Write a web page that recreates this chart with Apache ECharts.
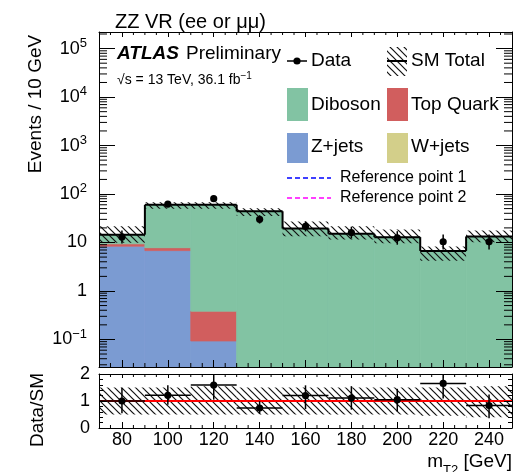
<!DOCTYPE html>
<html><head><meta charset="utf-8">
<script src="https://cdn.jsdelivr.net/npm/echarts@6/dist/echarts.min.js"></script>
<style>html,body{margin:0;padding:0;background:#fff}#c{width:518px;height:472px}</style>
</head><body><div id="c"></div>
<script>
// ---------------- data ----------------
const binEdges   = [70, 90, 110, 130, 150, 170, 190, 210, 230, 250];
const binCenters = [80, 100, 120, 140, 160, 180, 200, 220, 240];
const xTickValues = [80, 100, 120, 140, 160, 180, 200, 220, 240];
const zJets    = [8.4, 6.8, 0.093, 0, 0, 0, 0, 0, 0];
const topQuark = [1.0, 1.0, 0.29, 0, 0, 0, 0, 0, 0];
const wJets    = [0, 0, 0, 0, 0, 0, 0, 0, 0];
const diboson  = [5.1, 52, 59.6, 44, 19.4, 15.1, 12.9, 6.7, 13.3];
const smUpFactor   = [1.5, 1.13, 1.13, 1.15, 1.4, 1.43, 1.44, 1.24, 1.33];
const smDownFactor = [0.68, 0.83, 0.83, 0.8, 0.69, 0.76, 0.75, 0.63, 0.76];
const dataVals    = [13, 62, 80, 30, 21.5, 16, 12.5, 10.3, 10.3];
const dataErrUp   = [4.7, 8.9, 10, 6.5, 5.7, 5.1, 4.6, 4.3, 4.3];
const dataErrDown = [3.5, 7.8, 8.9, 5.4, 4.6, 3.9, 3.5, 3.1, 3.1];
const ratioVals = [1.0, 1.21, 1.59, 0.74, 1.2, 1.11, 1.05, 1.65, 0.83];
const ratioHigh = [1.49, 1.58, 2.1, 0.99, 1.58, 1.55, 1.45, 2.1, 1.24];
const ratioLow  = [0.55, 0.86, 1.05, 0.53, 0.7, 0.68, 0.61, 1.09, 0.36];
const ratioBandHigh = [1.5, 1.5, 1.55, 1.5, 1.5, 1.5, 1.5, 1.5, 1.55];
const ratioBandLow  = [0.5, 0.5, 0.5, 0.5, 0.5, 0.5, 0.5, 0.45, 0.4];
const ratioTickValues = [0, 1, 2];

// ---------------- styling ----------------
const X_MIN = 70, X_MAX = 250, Y_MIN = 0.027, Y_MAX = 2.2e5, R_MIN = 0, R_MAX = 2;
const FONT = '"Liberation Sans", Arial, Helvetica, sans-serif';
const C_DIB = '#82c3a3', C_TOP = '#d15e5e', C_Z = '#7b9bd2', C_W = '#d3cf8a';

function makeHatch(size, lw, color) {
  const c = document.createElement('canvas'); c.width = size; c.height = size;
  const g = c.getContext('2d'); g.strokeStyle = color; g.lineWidth = lw;
  g.beginPath();
  g.moveTo(-1, -1); g.lineTo(size + 1, size + 1);
  g.moveTo(-1, size - 1); g.lineTo(1, size + 1);
  g.moveTo(size - 1, -1); g.lineTo(size + 1, 1);
  g.stroke();
  return c;
}
const hatch = { image: makeHatch(7, 1.2, '#111'), repeat: 'repeat' };

const smTotal = binCenters.map((_, i) => zJets[i] + topQuark[i] + wJets[i] + diboson[i]);

function stackSeries(name, comps, idx, color) {
  const rows = [];
  binCenters.forEach((_, i) => {
    let base = 0;
    for (let k = 0; k < idx; k++) base += comps[k][i];
    const v = comps[idx][i];
    if (v > 0) rows.push([binEdges[i], binEdges[i + 1], Math.max(base, Y_MIN), base + v]);
  });
  return {
    type: 'custom', name, xAxisIndex: 0, yAxisIndex: 0, z: 2, silent: true, clip: true,
    encode: { x: 0, y: 3 }, data: rows,
    renderItem(params, api) {
      const a = api.coord([api.value(0), api.value(3)]);
      const b = api.coord([api.value(1), api.value(2)]);
      return { type: 'rect', shape: { x: a[0], y: a[1], width: b[0] - a[0], height: b[1] - a[1] },
        style: { fill: color, stroke: color, lineWidth: 0.8 } };
    }
  };
}
const comps = [zJets, topQuark, wJets, diboson];

// minor tick values
const minorY = [];
for (let d = -2; d <= 5; d++) for (let m = 2; m <= 9; m++) { const v = m * Math.pow(10, d); if (v > Y_MIN && v < Y_MAX) minorY.push(v); }
const minorX = [];
for (let x = X_MIN + 5; x < X_MAX; x += 5) if ((x - 80) % 20 !== 0) minorX.push(x);

function tickSeries(xi, yi, list, horizontal, lenA, lenB, yLo, yHi) {
  return {
    type: 'custom', xAxisIndex: xi, yAxisIndex: yi, z: 11, silent: true,
    encode: { x: 0, y: 1 },
    data: list.map(v => horizontal ? [X_MIN, v] : [v, yLo]),
    renderItem(params, api) {
      let p, q;
      if (horizontal) {
        p = api.coord([X_MIN, api.value(1)]); q = api.coord([X_MAX, api.value(1)]);
        return { type: 'group', children: [
          { type: 'line', shape: { x1: p[0], y1: p[1], x2: p[0] + lenA, y2: p[1] }, style: { stroke: '#000', lineWidth: 1 } },
          { type: 'line', shape: { x1: q[0], y1: q[1], x2: q[0] - lenB, y2: q[1] }, style: { stroke: '#000', lineWidth: 1 } }
        ] };
      }
      p = api.coord([api.value(0), yLo]); q = api.coord([api.value(0), yHi]);
      return { type: 'group', children: [
        { type: 'line', shape: { x1: p[0], y1: p[1], x2: p[0], y2: p[1] - lenA }, style: { stroke: '#000', lineWidth: 1 } },
        { type: 'line', shape: { x1: q[0], y1: q[1], x2: q[0], y2: q[1] + lenB }, style: { stroke: '#000', lineWidth: 1 } }
      ] };
    }
  };
}

const axLine = { show: true, onZero: false, lineStyle: { color: '#000', width: 1 } };
function xAx(grid, pos, len, labels) {
  return {
    type: 'value', gridIndex: grid, position: pos, min: X_MIN, max: X_MAX, splitNumber: 9, z: 10,
    axisLine: axLine, splitLine: { show: false },
    axisTick: { show: true, inside: true, length: len, customValues: xTickValues, lineStyle: { color: '#000' } },
    axisLabel: labels ? { show: true, customValues: xTickValues, color: '#000', fontSize: 18, fontFamily: FONT, margin: 3 } : { show: false }
  };
}
function logLabel(v) {
  const e = Math.log10(v), r = Math.round(e);
  if (Math.abs(e - r) > 1e-6) return '';
  if (r === 0) return '1';
  if (r === 1) return '10';
  return '10{sup|' + (r < 0 ? '\u2212' + (-r) : r) + '}';
}
function yLog(pos, labels) {
  return {
    type: 'log', logBase: 10, gridIndex: 0, position: pos, min: Y_MIN, max: Y_MAX, z: 10,
    axisLine: axLine, splitLine: { show: false },
    axisTick: { show: true, inside: true, length: 16, lineStyle: { color: '#000' } },
    axisLabel: labels ? {
      show: true, formatter: logLabel, color: '#000', fontSize: 18, fontFamily: FONT, margin: 12, lineHeight: 24,
      showMinLabel: false, showMaxLabel: false,
      rich: { sup: { fontSize: 13, fontFamily: FONT, color: '#000', verticalAlign: 'top', lineHeight: 13 } }
    } : { show: false }
  };
}
function yRatio(pos, labels) {
  return {
    type: 'value', gridIndex: 1, position: pos, min: R_MIN, max: R_MAX, interval: 1, z: 10,
    axisLine: axLine, splitLine: { show: false },
    axisTick: { show: true, inside: true, length: 8, lineStyle: { color: '#000' } },
    minorTick: { show: true, splitNumber: 5, length: 4, lineStyle: { color: '#000' } },
    minorSplitLine: { show: false },
    axisLabel: labels ? { show: true, color: '#000', fontSize: 18, fontFamily: FONT, margin: 9, customValues: ratioTickValues } : { show: false }
  };
}

const series = [];
comps.forEach((c, i) => series.push(stackSeries(['Z+jets', 'Top Quark', 'W+jets', 'Diboson'][i], comps, i, [C_Z, C_TOP, C_W, C_DIB][i])));

// SM total uncertainty band
series.push({
  type: 'custom', name: 'SM band', xAxisIndex: 0, yAxisIndex: 0, z: 3, silent: true, clip: true,
  encode: { x: 0, y: 2 },
  data: binCenters.map((_, i) => [binEdges[i], binEdges[i + 1], smTotal[i] * smUpFactor[i], smTotal[i] * smDownFactor[i]]),
  renderItem(params, api) {
    const a = api.coord([api.value(0), api.value(2)]);
    const b = api.coord([api.value(1), api.value(3)]);
    return { type: 'rect', shape: { x: a[0], y: a[1], width: b[0] - a[0], height: b[1] - a[1] }, style: { fill: hatch } };
  }
});
// SM total step line
series.push({
  type: 'custom', name: 'SM Total', xAxisIndex: 0, yAxisIndex: 0, z: 4, silent: true, clip: true,
  encode: { x: 0, y: 2 },
  data: binCenters.map((_, i) => [binEdges[i], binEdges[i + 1], smTotal[i], i > 0 ? smTotal[i - 1] : smTotal[i]]),
  renderItem(params, api) {
    const a = api.coord([api.value(0), api.value(2)]);
    const b = api.coord([api.value(1), api.value(2)]);
    const c = api.coord([api.value(0), api.value(3)]);
    return { type: 'group', children: [
      { type: 'line', shape: { x1: a[0], y1: a[1], x2: b[0], y2: b[1] }, style: { stroke: '#000', lineWidth: 2 } },
      { type: 'line', shape: { x1: c[0], y1: c[1], x2: a[0], y2: a[1] }, style: { stroke: '#000', lineWidth: 2 } }
    ] };
  }
});
// data points
series.push({
  type: 'custom', name: 'Data', xAxisIndex: 0, yAxisIndex: 0, z: 5, silent: true,
  encode: { x: 0, y: 1 },
  data: binCenters.map((x, i) => [x, dataVals[i], dataVals[i] + dataErrUp[i], dataVals[i] - dataErrDown[i]]),
  renderItem(params, api) {
    const p = api.coord([api.value(0), api.value(1)]);
    const u = api.coord([api.value(0), api.value(2)]);
    const d = api.coord([api.value(0), api.value(3)]);
    return { type: 'group', children: [
      { type: 'line', shape: { x1: u[0], y1: u[1], x2: d[0], y2: d[1] }, style: { stroke: '#000', lineWidth: 1.5 } },
      { type: 'circle', shape: { cx: p[0], cy: p[1], r: 3.6 }, style: { fill: '#000' } }
    ] };
  }
});
// ratio band + line at 1
series.push({
  type: 'custom', name: 'ratio band', xAxisIndex: 2, yAxisIndex: 2, z: 3, silent: true, clip: true,
  encode: { x: 0, y: 2 },
  data: binCenters.map((_, i) => [binEdges[i], binEdges[i + 1], ratioBandHigh[i], ratioBandLow[i]]),
  renderItem(params, api) {
    const a = api.coord([api.value(0), api.value(2)]);
    const b = api.coord([api.value(1), api.value(3)]);
    return { type: 'rect', shape: { x: a[0], y: a[1], width: b[0] - a[0], height: b[1] - a[1] }, style: { fill: hatch } };
  },
  markLine: { silent: true, symbol: 'none', label: { show: false }, lineStyle: { color: '#ff0000', width: 2, type: 'solid' }, data: [{ yAxis: 1 }] }
});
// ratio points
series.push({
  type: 'custom', name: 'ratio', xAxisIndex: 2, yAxisIndex: 2, z: 5, silent: true, clip: true,
  encode: { x: 0, y: 1 },
  data: binCenters.map((x, i) => [x, ratioVals[i], Math.min(ratioHigh[i], R_MAX), ratioLow[i], binEdges[i], binEdges[i + 1]]),
  renderItem(params, api) {
    const p = api.coord([api.value(0), api.value(1)]);
    const u = api.coord([api.value(0), api.value(2)]);
    const d = api.coord([api.value(0), api.value(3)]);
    const l = api.coord([api.value(4), api.value(1)]);
    const r = api.coord([api.value(5), api.value(1)]);
    return { type: 'group', children: [
      { type: 'line', shape: { x1: u[0], y1: u[1], x2: d[0], y2: d[1] }, style: { stroke: '#000', lineWidth: 1.5 } },
      { type: 'line', shape: { x1: l[0], y1: l[1], x2: r[0], y2: r[1] }, style: { stroke: '#000', lineWidth: 1.5 } },
      { type: 'circle', shape: { cx: p[0], cy: p[1], r: 3.6 }, style: { fill: '#000' } }
    ] };
  }
});
// minor ticks
series.push(tickSeries(0, 0, minorY, true, 8, 8));
series.push(tickSeries(0, 0, minorX, false, 4, 3, Y_MIN, Y_MAX));
series.push(tickSeries(2, 2, minorX, false, 3, 3, R_MIN, R_MAX));

// ---------------- texts & legend ----------------
function txt(text, x, y, size, opts) {
  return Object.assign({ type: 'text', x: x, y: y, z: 20, silent: true,
    style: Object.assign({ text: text, fill: '#000', font: size + 'px ' + FONT, align: 'left', verticalAlign: 'middle' }, (opts && opts.style) || {}) },
    (opts && opts.el) || {});
}
const graphics = [
  txt('ZZ VR (ee or \u03bc\u03bc)', 115, 22, 20),
  txt('ATLAS', 117, 54, 19, { style: { font: 'italic bold 19px ' + FONT } }),
  txt('Preliminary', 186, 54, 19),
  txt('\u221as = 13 TeV, 36.1 fb{sup|\u22121}', 117, 80, 14, { style: { rich: { sup: { fontSize: 10, fontFamily: FONT, fill: '#000', verticalAlign: 'top', lineHeight: 10 } }, lineHeight: 18 } }),
  txt('Events / 10 GeV', 36, 104, 19, { style: { align: 'center' }, el: { rotation: Math.PI / 2 } }),
  txt('Data/SM', 38, 410, 19, { style: { align: 'center' }, el: { rotation: Math.PI / 2 } }),
  txt('m{sub|T2} [GeV]', 512, 462, 19, { style: { align: 'right', lineHeight: 22, rich: { sub: { fontSize: 13, fontFamily: FONT, fill: '#000', verticalAlign: 'bottom', lineHeight: 13, padding: [0, 0, -4, 0] } } } }),
  // legend
  { type: 'line', z: 20, shape: { x1: 287, y1: 61, x2: 307, y2: 61 }, style: { stroke: '#000', lineWidth: 1.5 } },
  { type: 'circle', z: 21, shape: { cx: 297, cy: 61, r: 3.6 }, style: { fill: '#000' } },
  txt('Data', 311, 61, 19),
  { type: 'rect', z: 20, shape: { x: 387, y: 47, width: 20, height: 29 }, style: { fill: hatch } },
  { type: 'line', z: 21, shape: { x1: 387, y1: 61, x2: 407, y2: 61 }, style: { stroke: '#000', lineWidth: 2 } },
  txt('SM Total', 411, 61, 19),
  { type: 'rect', z: 20, shape: { x: 287, y: 88, width: 21, height: 33 }, style: { fill: C_DIB } },
  txt('Diboson', 311, 104.5, 19),
  { type: 'rect', z: 20, shape: { x: 387, y: 88, width: 21, height: 33 }, style: { fill: C_TOP } },
  txt('Top Quark', 411, 104.5, 19),
  { type: 'rect', z: 20, shape: { x: 287, y: 133, width: 21, height: 30 }, style: { fill: C_Z } },
  txt('Z+jets', 311, 146.5, 19),
  { type: 'rect', z: 20, shape: { x: 387, y: 133, width: 21, height: 30 }, style: { fill: C_W } },
  txt('W+jets', 411, 146.5, 19),
  { type: 'line', z: 20, shape: { x1: 287, y1: 178, x2: 331, y2: 178 }, style: { stroke: '#0000ff', lineWidth: 1.5, lineDash: [5, 3] } },
  txt('Reference point 1', 340, 178, 16),
  { type: 'line', z: 20, shape: { x1: 287, y1: 198, x2: 331, y2: 198 }, style: { stroke: '#ff00ff', lineWidth: 1.5, lineDash: [5, 3] } },
  txt('Reference point 2', 340, 198, 16)
];

const chart = echarts.init(document.getElementById('c'), null, { renderer: 'canvas' });
chart.setOption({
  animation: false,
  backgroundColor: '#fff',
  textStyle: { fontFamily: FONT },
  grid: [
    { left: 99, top: 32, width: 413, height: 335 },
    { left: 99, top: 374, width: 413, height: 54 }
  ],
  xAxis: [xAx(0, 'bottom', 7, false), xAx(0, 'top', 5, false), xAx(1, 'bottom', 6, true), xAx(1, 'top', 4, false)],
  yAxis: [yLog('left', true), yLog('right', false), yRatio('left', true), yRatio('right', false)],
  series: series,
  graphic: graphics
});
</script>
</body></html>
